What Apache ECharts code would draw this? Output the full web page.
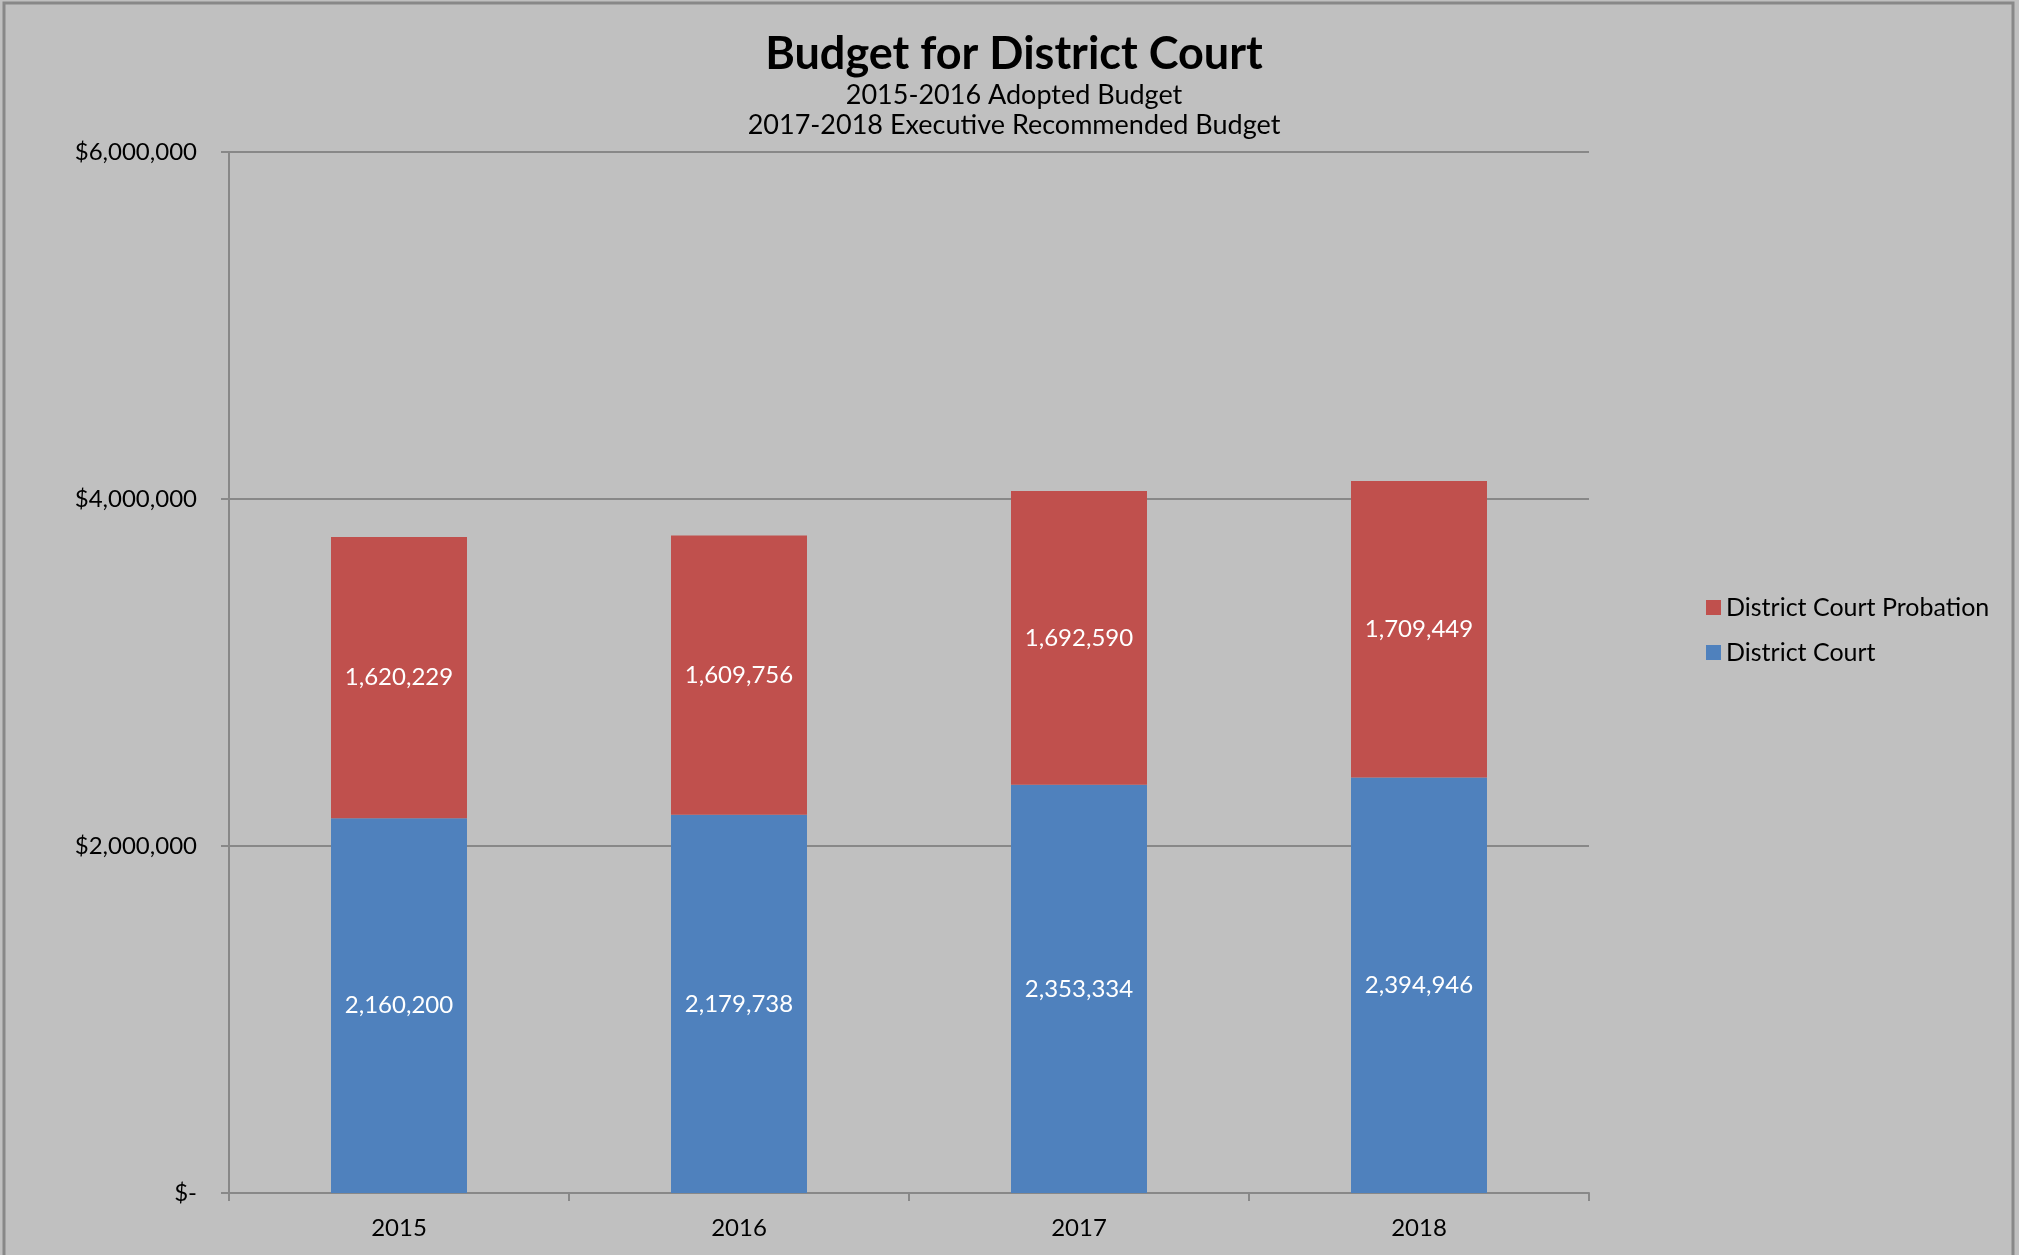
<!DOCTYPE html>
<html>
<head>
<meta charset="utf-8">
<title>Budget for District Court</title>
<script src="https://cdn.jsdelivr.net/npm/echarts@6/dist/echarts.min.js"></script>
<style>
  html, body { margin: 0; padding: 0; background: #c0c0c0; }
  #chart { width: 2019px; height: 1255px; }
</style>
</head>
<body>
<div id="chart"></div>
<script>
  // budget years and amounts per division
  const years = ['2015', '2016', '2017', '2018'];
  const districtCourt = [2160200, 2179738, 2353334, 2394946];
  const courtProbation = [1620229, 1609756, 1692590, 1709449];
  const yTicks = [0, 2000000, 4000000, 6000000];

  const FONT = 'Lato, "Open Sans", sans-serif';
  const fmt = v => v.toLocaleString('en-US');

  const chart = echarts.init(document.getElementById('chart'));
  chart.setOption({
    backgroundColor: '#c0c0c0',
    animation: false,
    title: {
      text: 'Budget for District Court',
      subtext: '2015-2016 Adopted Budget\n2017-2018 Executive Recommended Budget',
      left: 1009,
      textAlign: 'center',
      top: 27,
      itemGap: 3,
      textStyle: { fontFamily: FONT, fontSize: 45, fontWeight: 'bold', color: '#000' },
      subtextStyle: { fontFamily: FONT, fontSize: 27, color: '#000', lineHeight: 30 }
    },
    legend: {
      orient: 'vertical',
      left: 1701,
      top: 590,
      itemWidth: 15,
      itemHeight: 15,
      itemGap: 20,
      icon: 'rect',
      data: ['District Court Probation', 'District Court'],
      textStyle: { fontFamily: FONT, fontSize: 25, color: '#000' }
    },
    grid: { left: 229, right: 430, top: 152, bottom: 62 },
    xAxis: {
      type: 'category',
      data: years,
      axisLine: { lineStyle: { color: '#888', width: 2 } },
      axisTick: { show: true, length: 8, lineStyle: { color: '#888', width: 2 } },
      axisLabel: { fontFamily: FONT, fontSize: 24, color: '#000', margin: 23 }
    },
    yAxis: {
      type: 'value',
      min: yTicks[0],
      max: yTicks[yTicks.length - 1],
      interval: yTicks[1] - yTicks[0],
      axisLine: { show: true, lineStyle: { color: '#888', width: 2 } },
      axisTick: { show: true, length: 8, lineStyle: { color: '#888', width: 2 } },
      splitLine: { lineStyle: { color: '#888', width: 2 } },
      axisLabel: {
        fontFamily: FONT, fontSize: 24, color: '#000', margin: 32,
        formatter: v => v === 0 ? '$-' : '$' + fmt(v)
      }
    },
    series: [
      {
        name: 'District Court',
        type: 'bar',
        stack: 'total',
        data: districtCourt,
        barCategoryGap: '60%',
        itemStyle: { color: '#4f81bd' },
        label: { show: true, position: 'inside', color: '#fff', fontFamily: FONT, fontSize: 24, formatter: p => fmt(p.value) }
      },
      {
        name: 'District Court Probation',
        type: 'bar',
        stack: 'total',
        data: courtProbation,
        barCategoryGap: '60%',
        itemStyle: { color: '#c0504d' },
        label: { show: true, position: 'inside', color: '#fff', fontFamily: FONT, fontSize: 24, formatter: p => fmt(p.value) }
      }
    ],
    graphic: [{
      type: 'rect',
      shape: { x: 4, y: 3, width: 2009, height: 1260 },
      style: { fill: 'none', stroke: '#888', lineWidth: 3 },
      silent: true
    }]
  });
</script>
</body>
</html>
